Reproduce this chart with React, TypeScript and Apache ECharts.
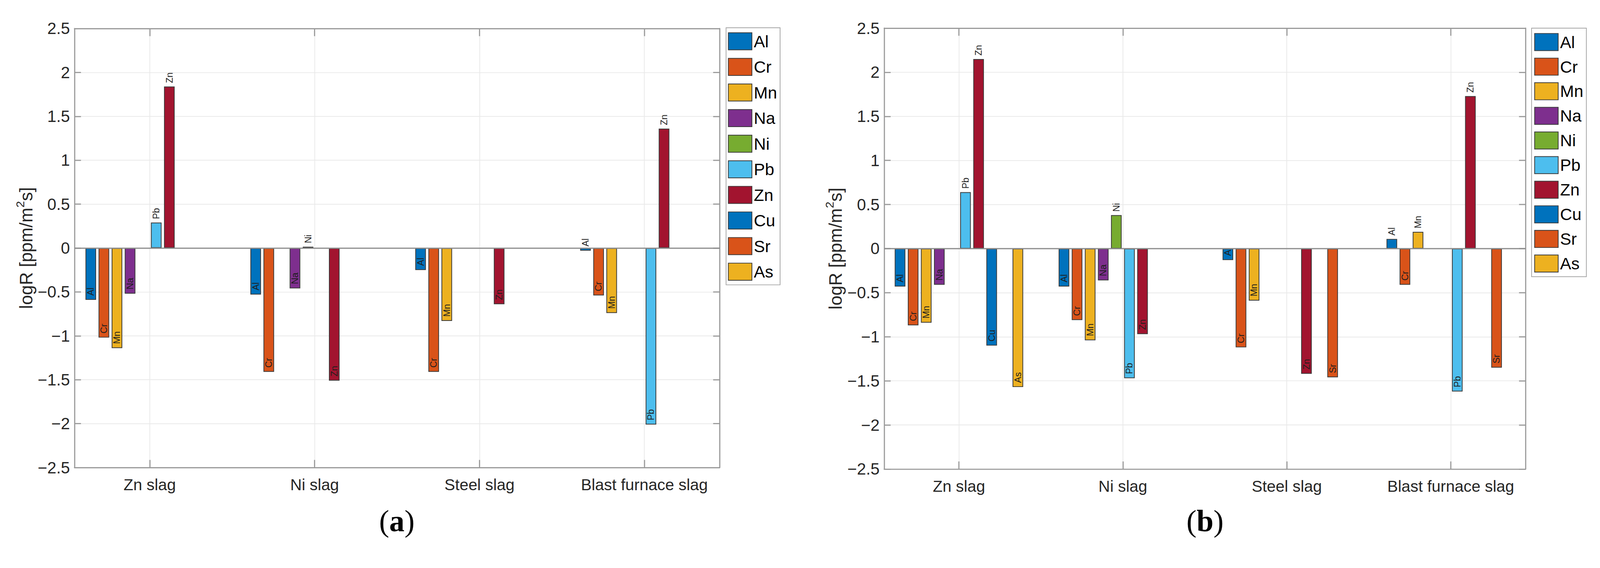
import * as echarts from "echarts";
import { useEffect, useRef, useState } from "react";

// element order = series order (MATLAB grouped bars, 10 slots per slag)
const ELEMENTS = ["Al", "Cr", "Mn", "Na", "Ni", "Pb", "Zn", "Cu", "Sr", "As"];
const ELEMENT_COLORS = [
  "#0072BD", "#D95319", "#EDB120", "#7E2F8E", "#77AC30",
  "#4DBEEE", "#A2142F", "#0072BD", "#D95319", "#EDB120",
];
const SLAGS = ["Zn slag", "Ni slag", "Steel slag", "Blast furnace slag"];
const SLAG_X = [1, 2, 3, 4];

// logR per slag, one value per element (null = no bar)
const ZN_SLAG_A = [-0.59, -1.02, -1.14, -0.52, null, 0.29, 1.84, null, null, null];
const NI_SLAG_A = [-0.53, -1.41, null, -0.46, 0.015, null, -1.51, null, null, null];
const STEEL_SLAG_A = [-0.25, -1.41, -0.83, null, null, null, -0.64, null, null, null];
const BLAST_SLAG_A = [-0.03, -0.54, -0.74, null, null, -2.01, 1.36, null, null, null];

const ZN_SLAG_B = [-0.43, -0.87, -0.84, -0.41, null, 0.64, 2.15, -1.1, null, -1.57];
const NI_SLAG_B = [-0.43, -0.81, -1.04, -0.36, 0.38, -1.47, -0.97, null, null, null];
const STEEL_SLAG_B = [-0.13, -1.12, -0.59, null, null, null, -1.42, null, -1.46, null];
const BLAST_SLAG_B = [0.11, -0.41, 0.19, null, null, -1.62, 1.73, null, -1.35, null];

const PANEL_A = [ZN_SLAG_A, NI_SLAG_A, STEEL_SLAG_A, BLAST_SLAG_A];
const PANEL_B = [ZN_SLAG_B, NI_SLAG_B, STEEL_SLAG_B, BLAST_SLAG_B];

const Y_MIN = -2.5;
const Y_MAX = 2.5;
const Y_STEP = 0.5;
const X_MIN = 0.544;
const X_MAX = 4.456;

const W = 4209;
const H = 1453;

const INK = "#262626";
const FRAME = "#9a9a9a";
const GRIDLINE = "#e9e9e9";
const SANS = "'Liberation Sans', Arial, Helvetica, sans-serif";
const SERIF = "'Liberation Serif', 'Times New Roman', serif";

function xAxes(gridIndex: number) {
  const line = { show: true, onZero: false, lineStyle: { color: FRAME, width: 3 } };
  const tick = { show: true, inside: true, length: 20, customValues: SLAG_X, lineStyle: { color: FRAME, width: 3 } };
  return [
    {
      type: "value",
      gridIndex,
      min: X_MIN,
      max: X_MAX,
      position: "bottom",
      axisLine: line,
      axisTick: tick,
      axisLabel: {
        customValues: SLAG_X,
        formatter: (v: number) => SLAGS[Math.round(v) - 1] ?? "",
        fontSize: 42,
        color: INK,
        margin: 24,
        fontFamily: SANS,
      },
      splitLine: { show: true, lineStyle: { color: GRIDLINE, width: 2 } },
    },
    {
      type: "value",
      gridIndex,
      min: X_MIN,
      max: X_MAX,
      position: "top",
      axisLine: line,
      axisTick: tick,
      axisLabel: { show: false },
      splitLine: { show: false },
    },
  ];
}

function yAxes(gridIndex: number) {
  const line = { show: true, onZero: false, lineStyle: { color: FRAME, width: 3 } };
  const tick = { show: true, inside: true, length: 17, lineStyle: { color: FRAME, width: 3 } };
  return [
    {
      type: "value",
      gridIndex,
      min: Y_MIN,
      max: Y_MAX,
      interval: Y_STEP,
      position: "left",
      axisLine: line,
      axisTick: tick,
      axisLabel: {
        fontSize: 43,
        color: INK,
        margin: 12,
        fontFamily: SANS,
        formatter: (v: number) => String(v).replace("-", "\u2212"),
      },
      splitLine: { show: true, lineStyle: { color: GRIDLINE, width: 2 } },
      name: "logR [ppm/m{sup|2}s]",
      nameLocation: "middle",
      nameRotate: 90,
      nameGap: 95,
      nameMoveOverlap: false,
      nameTextStyle: {
        fontSize: 47,
        lineHeight: 64,
        color: INK,
        fontFamily: SANS,
        rich: { sup: { fontSize: 31, lineHeight: 32, verticalAlign: "top", color: INK, fontFamily: SANS } },
      },
    },
    {
      type: "value",
      gridIndex,
      min: Y_MIN,
      max: Y_MAX,
      interval: Y_STEP,
      position: "right",
      axisLine: line,
      axisTick: tick,
      axisLabel: { show: false },
      splitLine: { show: false },
    },
  ];
}

function panelSeries(rows: (number | null)[][], panel: number) {
  return ELEMENTS.map((name, e) => ({
    type: "bar",
    name,
    xAxisIndex: panel * 2,
    yAxisIndex: panel * 2,
    barWidth: 28,
    barGap: "23%",
    itemStyle: { color: ELEMENT_COLORS[e], borderColor: "#3a3a3a", borderWidth: 2 },
    label: {
      show: true,
      rotate: 90,
      align: "left",
      verticalAlign: "middle",
      formatter: name,
      fontSize: 24,
      fontFamily: SANS,
      color: "#1e1e1e",
    },
    data: rows.map((row, s) => {
      const v = row[e];
      if (v == null) return [SLAG_X[s], "-"];
      return {
        value: [SLAG_X[s], v],
        label: { position: v >= 0 ? "top" : "insideBottom", distance: v >= 0 ? 9 : 11 },
      };
    }),
    markLine:
      e === 0
        ? {
            silent: true,
            symbol: "none",
            label: { show: false },
            lineStyle: { color: "#8c8c8c", width: 3, type: "solid" },
            data: [{ yAxis: 0 }],
          }
        : undefined,
  }));
}

function legend(left: number, top: number, itemGap: number, padding: number[]) {
  return {
    left,
    top,
    orient: "vertical",
    icon: "rect",
    itemWidth: 62,
    itemHeight: 45,
    itemGap,
    padding,
    selectedMode: false,
    borderColor: "#a6a6a6",
    borderWidth: 2,
    backgroundColor: "#ffffff",
    textStyle: { fontSize: 44, lineHeight: 45, color: "#000", fontFamily: SANS },
    data: ELEMENTS,
  };
}

function caption(x: number, letter: string) {
  return {
    type: "text",
    x,
    y: 1370,
    style: {
      text: `({b|${letter}})`,
      fill: "#000",
      fontSize: 80,
      fontFamily: SERIF,
      align: "center",
      verticalAlign: "middle",
      textAlign: "center",
      textVerticalAlign: "middle",
      rich: { b: { fontWeight: "bold", fontSize: 80, fontFamily: SERIF, fill: "#000" } },
    },
  };
}

function buildOption() {
  return {
    animation: false,
    backgroundColor: "#ffffff",
    textStyle: { fontFamily: SANS },
    grid: [
      { left: 196, top: 75, right: 2316, bottom: 224, outerBoundsMode: "none" },
      { left: 2326, top: 74, right: 196, bottom: 220, outerBoundsMode: "none" },
    ],
    xAxis: [...xAxes(0), ...xAxes(1)],
    yAxis: [...yAxes(0), ...yAxes(1)],
    legend: [legend(1910, 73, 20.3, [12, 8, 11, 5]), legend(4029, 74, 17.7, [13, 8, 11, 7])],
    series: [...panelSeries(PANEL_A, 0), ...panelSeries(PANEL_B, 1)],
    graphic: [caption(1044, "a"), caption(3170, "b")],
  };
}

export default function App() {
  const ref = useRef<HTMLDivElement>(null);
  // the figure is laid out in reference pixels; fit it to whatever viewport we get
  const [scale] = useState(() => Math.min(window.innerWidth / W, window.innerHeight / H));

  useEffect(() => {
    const el = ref.current;
    if (!el) return;
    const chart = echarts.init(el, null, { renderer: "svg" });
    chart.setOption(buildOption() as any);
    return () => chart.dispose();
  }, []);

  return (
    <div
      ref={ref}
      style={{
        position: "fixed",
        left: 0,
        top: 0,
        width: W,
        height: H,
        background: "#fff",
        transform: `scale(${scale})`,
        transformOrigin: "0 0",
      }}
    />
  );
}
